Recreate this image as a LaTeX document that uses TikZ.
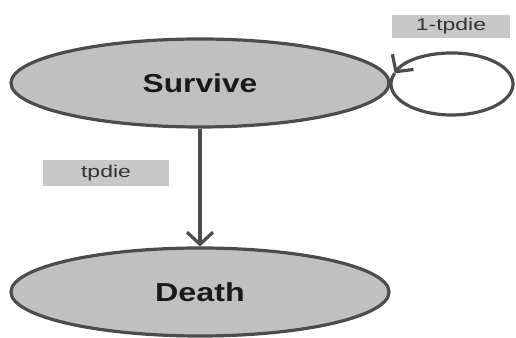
\documentclass[tikz,border=0pt]{standalone}
\usepackage{graphicx}
\usepackage{fontspec}
\setmainfont{Liberation Sans}
\usetikzlibrary{arrows.meta,shapes.geometric}
\definecolor{edgegray}{HTML}{4C4C4C}
\definecolor{fillgray}{HTML}{C0C0C0}
\definecolor{labelgray}{HTML}{C8C8C8}
\begin{document}
\begin{tikzpicture}[x=1pt,y=1pt,
  state/.style={ellipse, draw=edgegray, fill=fillgray, line width=3.2pt,
    minimum width=378pt, minimum height=88pt, inner sep=0pt,
    font=\bfseries\fontsize{26}{30}\selectfont, text=black!90},
  prob/.style={fill=labelgray, inner sep=0pt, font=\fontsize{17}{20}\selectfont, text=black!80},
  barb/.style={-{Straight Barb[length=12pt,width=26pt]}},
  conn/.style={draw=edgegray, line width=3.2pt}
]
\useasboundingbox (0,0) rectangle (516,337);
\node[state] (s) at (200,254) {\scalebox{1.22}[1]{Survive}};
\node[state] (d) at (200,45) {\scalebox{1.24}[1]{Death}};
\node[prob, minimum width=118pt, minimum height=23pt] (l1) at (451,310.5) {\scalebox{1.35}[1]{1-tpdie}};
\node[prob, minimum width=126pt, minimum height=26pt] (l2) at (106,164) {\scalebox{1.35}[1]{tpdie}};
\draw[barb, conn] (s.south) -- (d.north);
\coordinate (lc) at (452,253);
\draw[barb, conn] ([shift={(160:61pt and 31pt)}]lc) arc[start angle=-200, end angle=160, x radius=61pt, y radius=31pt];
\end{tikzpicture}
\end{document}
